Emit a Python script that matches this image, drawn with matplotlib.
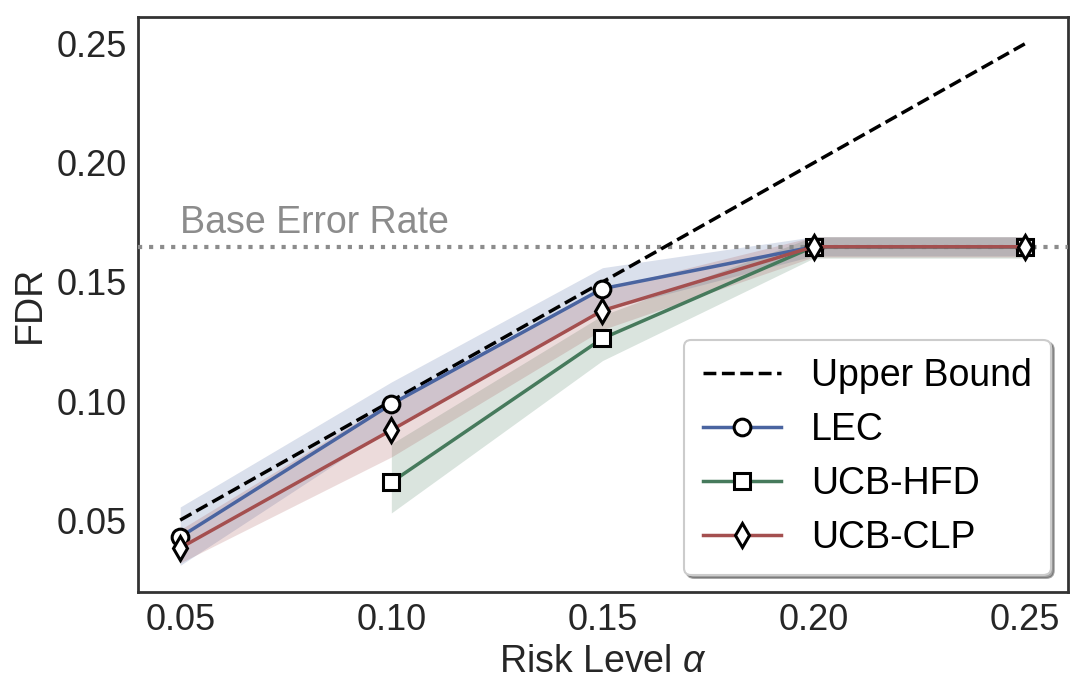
import numpy as np
import matplotlib
matplotlib.use("Agg")
import matplotlib.pyplot as plt

plt.rcParams['font.family'] = ['Liberation Sans', 'DejaVu Sans']
plt.rcParams['mathtext.fontset'] = 'custom'
plt.rcParams['mathtext.it'] = 'Liberation Sans:italic'
plt.rcParams['mathtext.rm'] = 'Liberation Sans'

# risk levels
alphas = [0.05, 0.10, 0.15, 0.20, 0.25]
base_error = 0.1648

# mean FDR and band edges per method
lec_mean = [0.0429, 0.0987, 0.1472, 0.1648, 0.1648]
lec_low = [0.0310, 0.0890, 0.1380, 0.1610, 0.1610]
lec_high = [0.0555, 0.1080, 0.1560, 0.1690, 0.1690]

hfd_alphas = [0.10, 0.15, 0.20, 0.25]
hfd_mean = [0.0659, 0.1263, 0.1648, 0.1648]
hfd_low = [0.0530, 0.1170, 0.1600, 0.1600]
hfd_high = [0.0820, 0.1360, 0.1690, 0.1690]

clp_mean = [0.0383, 0.0878, 0.1380, 0.1648, 0.1648]
clp_low = [0.0320, 0.0765, 0.1300, 0.1605, 0.1605]
clp_high = [0.0460, 0.1000, 0.1470, 0.1690, 0.1690]

blue = '#4a64a0'
green = '#467a5c'
red = '#a44f4f'

fig = plt.figure(figsize=(10.83, 6.92), dpi=100)
ax = fig.add_axes([0.1274, 0.1445, 0.8586, 0.831])

# upper bound y = alpha
ax.plot(alphas, alphas, '--', color='black', lw=2.5, label='Upper Bound', zorder=4)

mk = dict(markerfacecolor='white', markeredgecolor='black', markeredgewidth=2.2, markersize=12)
ax.fill_between(alphas, lec_low, lec_high, color=blue, alpha=0.2, lw=0)
ax.plot(alphas, lec_mean, '-', marker='o', color=blue, lw=2.5, label='LEC', zorder=5, **mk)
ax.fill_between(hfd_alphas, hfd_low, hfd_high, color=green, alpha=0.2, lw=0)
ax.plot(hfd_alphas, hfd_mean, '-', marker='s', color=green, lw=2.5, label='UCB-HFD', zorder=5, **mk)
ax.fill_between(alphas, clp_low, clp_high, color=red, alpha=0.2, lw=0)
ax.plot(alphas, clp_mean, '-', marker='d', color=red, lw=2.5, label='UCB-CLP', zorder=5, **mk)

ax.axhline(base_error, color='#8c8c8c', ls=':', lw=3, zorder=3)
ax.text(0.05, base_error + 0.0025, 'Base Error Rate', color='#8c8c8c', fontsize=27,
        ha='left', va='bottom')

ax.set_xlim(0.04, 0.2602)
ax.set_ylim(0.0198, 0.2613)
ax.set_xticks(alphas)
ax.set_yticks([0.05, 0.10, 0.15, 0.20, 0.25])
ax.xaxis.set_major_formatter(matplotlib.ticker.FormatStrFormatter('%.2f'))
ax.yaxis.set_major_formatter(matplotlib.ticker.FormatStrFormatter('%.2f'))
ax.tick_params(length=0, labelsize=26, colors='#262626', pad=8)
for s in ax.spines.values():
    s.set_color('#333333')
    s.set_linewidth(2)

ax.set_xlabel(r'Risk Level $\alpha$', fontsize=27, color='#262626', labelpad=4)
ax.set_ylabel('FDR', fontsize=27, color='#262626', labelpad=6)

leg = ax.legend(loc='lower right', fontsize=27, frameon=True, shadow=True, fancybox=True,
                handlelength=2.1, borderpad=0.5, labelspacing=0.48, borderaxespad=0.45,
                handletextpad=0.8)
leg.get_frame().set_edgecolor('#cccccc')
leg.get_frame().set_linewidth(1.5)

fig.savefig('out.png', dpi=100)
